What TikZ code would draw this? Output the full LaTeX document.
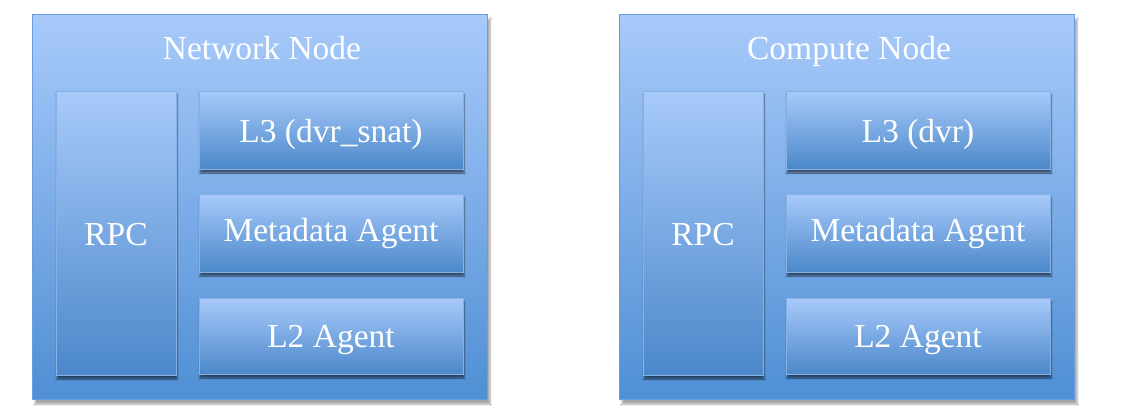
\documentclass[tikz,border=0pt]{standalone}
\usepackage{fontspec}
\setmainfont{Liberation Serif}
\usetikzlibrary{shadows,shadows.blur}
\definecolor{boxtop}{HTML}{A8CAFB}
\definecolor{boxbot}{HTML}{4F8FD4}
\definecolor{boxline}{HTML}{6A9DDD}
\tikzset{
  outerbox/.style={draw=boxline, line width=1pt, top color=boxtop, bottom color=boxbot,
    blur shadow={shadow xshift=3pt, shadow yshift=-5pt, shadow blur steps=6, shadow opacity=35}},
  innerbox/.style={draw=boxline!80, line width=0.6pt, top color=boxtop, bottom color=boxbot!95!black,
    blur shadow={shadow xshift=1pt, shadow yshift=-4pt, shadow blur steps=5, shadow opacity=55}},
  lbl/.style={text=white, font=\fontsize{33.5}{38}\selectfont, inner sep=0pt, anchor=base}
}
\begin{document}
\begin{tikzpicture}[x=1pt,y=-1pt]
\useasboundingbox[fill=white] (0,0) rectangle (1141,418);
\foreach \dx/\nm/\title/\lthree in {0/net/Network Node/L3 (dvr\_snat), 587/cmp/Compute Node/L3 (dvr)} {
  \begin{scope}[xshift=\dx pt]
    \draw[outerbox] (32,14) rectangle (487,399);
    \node[lbl] (\nm-title) at (262,59) {\title};
    \draw[innerbox] (56,91) rectangle (176,375);
    \node[lbl] (\nm-rpc) at (116,245) {RPC};
    \draw[innerbox] (199,91) rectangle (463,169);
    \node[lbl] (\nm-l3) at (331,142) {\lthree};
    \draw[innerbox] (199,194) rectangle (463,272);
    \node[lbl] (\nm-meta) at (331,241) {Metadata Agent};
    \draw[innerbox] (199,298) rectangle (463,374);
    \node[lbl] (\nm-l2) at (331,347) {L2 Agent};
  \end{scope}
}
\end{tikzpicture}
\end{document}
